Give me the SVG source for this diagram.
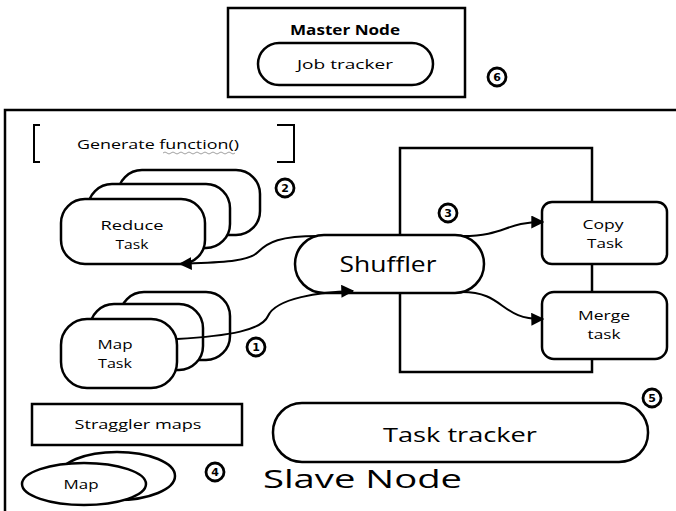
<svg xmlns="http://www.w3.org/2000/svg" width="676" height="511" viewBox="0 0 676 511">
<defs>
<style>
.s{fill:#fff;stroke:#000;stroke-width:2.5}
.n{fill:none;stroke:#000;stroke-width:2.5}
.t{font-family:"Open Sans","DejaVu Sans",sans-serif;font-size:13.5px;fill:#000;text-anchor:middle}
.b{font-weight:bold}
.c{fill:#fff;stroke:#000;stroke-width:2.8}
.d{font-family:"DejaVu Sans",sans-serif;font-size:11px;font-weight:bold;fill:#000;text-anchor:middle}
.e{fill:none;stroke:#000;stroke-width:2}
</style>
<marker id="ah2" viewBox="0 0 10 10" refX="9" refY="5" markerWidth="13" markerHeight="13" markerUnits="userSpaceOnUse" orient="auto">
<path d="M0,0 L10,5 L0,10 Z" fill="#000"/>
</marker>
</defs>
<rect width="676" height="511" fill="#fff"/>

<g id="master-node">
<rect x="228" y="8" width="237" height="89" class="s" stroke-width="3"/>
<text x="345" y="35" class="t b" textLength="110" lengthAdjust="spacingAndGlyphs">Master Node</text>
</g>
<g id="job-tracker">
<rect x="258" y="43" width="175" height="42" rx="21" class="s"/>
<text x="345" y="69" class="t" textLength="96" lengthAdjust="spacingAndGlyphs">Job tracker</text>
</g>
<g id="label-6">
<circle cx="497" cy="77" r="9" class="c"/>
<text x="497" y="81" class="d">6</text>
</g>

<g id="slave-node">
<rect x="5" y="110" width="700" height="430" class="n" stroke-width="3"/>
<text x="263" y="488" font-family="'Open Sans','DejaVu Sans',sans-serif" font-size="26" fill="#000" textLength="199" lengthAdjust="spacingAndGlyphs">Slave Node</text>
</g>

<g id="generate-function">
<path d="M40,125 L34,125 L34,162 L40,162" class="e"/>
<path d="M277,125 L294,125 L294,162 L277,162" class="e"/>
<text x="158" y="149" class="t" font-size="14" textLength="162" lengthAdjust="spacingAndGlyphs">Generate function()</text>
<path d="M163,153 q2,-2 4,0 t4,0 t4,0 t4,0 t4,0 t4,0 t4,0 t4,0 t4,0 t4,0 t4,0 t4,0 t4,0 t4,0 t4,0 t4,0 t4,0 t4,0" fill="none" stroke="#888" stroke-width="0.8"/>
</g>

<g id="reduce-task">
<rect x="118" y="170" width="142" height="65" rx="24" class="s"/>
<rect x="88" y="184" width="142" height="64" rx="24" class="s"/>
<rect x="61" y="199" width="144" height="65" rx="24" class="s"/>
<text x="132" y="230" class="t" textLength="63" lengthAdjust="spacingAndGlyphs">Reduce</text>
<text x="132" y="249" class="t" textLength="33" lengthAdjust="spacingAndGlyphs">Task</text>
</g>
<g id="label-2">
<circle cx="285" cy="188" r="9" class="c"/>
<text x="285" y="192" class="d">2</text>
</g>

<g id="map-task">
<rect x="120" y="292" width="110" height="68" rx="24" class="s"/>
<rect x="90" y="304" width="113" height="66" rx="24" class="s"/>
<rect x="61" y="319" width="116" height="69" rx="26" class="s"/>
<text x="115" y="349" class="t" textLength="35" lengthAdjust="spacingAndGlyphs">Map</text>
<text x="115" y="368" class="t" textLength="34" lengthAdjust="spacingAndGlyphs">Task</text>
</g>
<g id="label-1">
<circle cx="256" cy="347" r="9" class="c"/>
<text x="256" y="351" class="d">1</text>
</g>

<g id="straggler-maps">
<rect x="32" y="404" width="210" height="41" class="s"/>
<text x="138" y="429" class="t" textLength="127" lengthAdjust="spacingAndGlyphs">Straggler maps</text>
</g>

<g id="map">
<ellipse cx="117" cy="476" rx="58" ry="24" class="s"/>
<ellipse cx="84" cy="484" rx="62" ry="21" class="s"/>
<text x="81" y="489" class="t" textLength="35" lengthAdjust="spacingAndGlyphs">Map</text>
</g>
<g id="label-4">
<circle cx="215" cy="472" r="9" class="c"/>
<text x="215" y="476" class="d">4</text>
</g>

<g id="shuffle-area">
<rect x="400" y="148" width="192" height="224" class="n"/>
</g>
<g id="label-3">
<circle cx="448" cy="213" r="9" class="c"/>
<text x="448" y="217" class="d">3</text>
</g>

<g id="shuffler">
<rect x="295" y="235" width="189" height="58" rx="29" class="s"/>
<text x="388" y="272" font-family="'Open Sans','DejaVu Sans',sans-serif" font-size="21" fill="#000" text-anchor="middle" textLength="97" lengthAdjust="spacingAndGlyphs">Shuffler</text>
</g>

<g id="copy-task">
<rect x="542" y="202" width="125" height="62" rx="10" class="s"/>
<text x="603" y="229" class="t" textLength="41" lengthAdjust="spacingAndGlyphs">Copy</text>
<text x="605" y="248" class="t" textLength="36" lengthAdjust="spacingAndGlyphs">Task</text>
</g>
<g id="merge-task">
<rect x="542" y="292" width="125" height="67" rx="12" class="s"/>
<text x="604" y="320" class="t" textLength="52" lengthAdjust="spacingAndGlyphs">Merge</text>
<text x="604" y="339" class="t" textLength="33" lengthAdjust="spacingAndGlyphs">task</text>
</g>

<g id="task-tracker">
<rect x="273" y="403" width="375" height="59" rx="29" class="s"/>
<text x="460" y="442" font-family="'Open Sans','DejaVu Sans',sans-serif" font-size="20" fill="#000" text-anchor="middle" textLength="154" lengthAdjust="spacingAndGlyphs">Task tracker</text>
</g>
<g id="label-5">
<circle cx="652" cy="398" r="9" class="c"/>
<text x="652" y="402" class="d">5</text>
</g>

<g id="connectors">
<path d="M318,236 C280,236 268,242 258,252 C248,262 220,262 180,264" class="e" marker-end="url(#ah2)"/>
<path d="M177,339 C230,336 262,330 268,316 C276,298 320,292 353,291" class="e" marker-end="url(#ah2)"/>
<path d="M463,236 C505,236 505,222 543,222" class="e" marker-end="url(#ah2)"/>
<path d="M462,292 C505,292 500,320 543,319" class="e" marker-end="url(#ah2)"/>
</g>
</svg>
